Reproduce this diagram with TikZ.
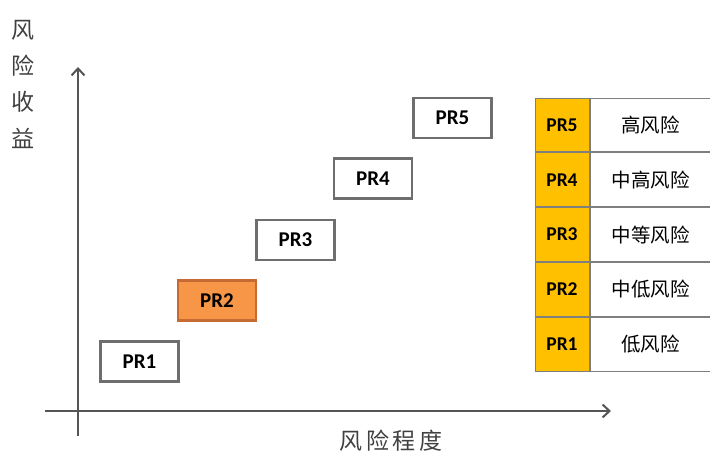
\documentclass[tikz,border=0pt]{standalone}
\usepackage{fontspec}
\setmainfont{Carlito}
\newfontfamily\cjk{Noto Sans CJK SC}
\usetikzlibrary{arrows.meta,positioning}
\definecolor{boxgray}{HTML}{6E6E6E}
\definecolor{axisgray}{HTML}{555555}
\definecolor{prorange}{HTML}{F79646}
\definecolor{prorangedark}{HTML}{C46A32}
\definecolor{pryellow}{HTML}{FFC000}
\definecolor{rowline}{HTML}{7F7F7F}
\begin{document}
\begin{tikzpicture}[x=1pt,y=-1pt,
  prbox/.style={draw=boxgray,line width=2.4pt,fill=white,minimum width=78pt,minimum height=40pt,inner sep=0pt,font=\fontsize{21}{21}\selectfont\bfseries},
  lvlcell/.style={draw=rowline,line width=1pt,fill=pryellow,minimum width=54pt,minimum height=53.8pt,inner sep=0pt,font=\fontsize{19.5}{19.5}\selectfont\bfseries},
  desccell/.style={draw=rowline,line width=1pt,fill=white,minimum width=121pt,minimum height=53.8pt,inner sep=0pt,font=\cjk\fontsize{19.5}{19.5}\selectfont},
  axis/.style={draw=axisgray,line width=2.4pt,-{Straight Barb[length=7pt,width=13pt,line width=2pt]}},
  axlabel/.style={font=\cjk\fontsize{23}{23}\selectfont,text=black!75,inner sep=0pt}]
\useasboundingbox (0,0) rectangle (710,457);
% axes
\coordinate (xs) at (45,411);
\coordinate (xe) at (611,411);
\coordinate (ys) at (78,436);
\coordinate (ye) at (78,67);
\draw[axis] (xs) -- (xe);
\draw[axis] (ys) -- (ye);
% axis labels
\node[axlabel] (yl1) at (23,30) {风};
\node[axlabel] (yl2) at (23,66) {险};
\node[axlabel] (yl3) at (23,102) {收};
\node[axlabel] (yl4) at (23,138) {益};
\node[axlabel] (xl) at (391,441) {风\,险\,程\,度};
% boxes
\node[prbox] (p1) at (139.5,361.5) {PR1};
\node[prbox,draw=prorangedark,fill=prorange] (p2) at (217,300.5) {PR2};
\node[prbox] (p3) at (295.5,240) {PR3};
\node[prbox] (p4) at (373,178.5) {PR4};
\node[prbox] (p5) at (452.5,118) {PR5};
% table
\node[lvlcell] (l5) at (562,125) {PR5};
\node[lvlcell,below=0pt of l5] (l4) {PR4};
\node[lvlcell,below=0pt of l4] (l3) {PR3};
\node[lvlcell,below=0pt of l3] (l2) {PR2};
\node[lvlcell,below=0pt of l2] (l1) {PR1};
\node[desccell,right=0pt of l5] (d5) {高风险};
\node[desccell,right=0pt of l4] (d4) {中高风险};
\node[desccell,right=0pt of l3] (d3) {中等风险};
\node[desccell,right=0pt of l2] (d2) {中低风险};
\node[desccell,right=0pt of l1] (d1) {低风险};
\end{tikzpicture}
\end{document}
